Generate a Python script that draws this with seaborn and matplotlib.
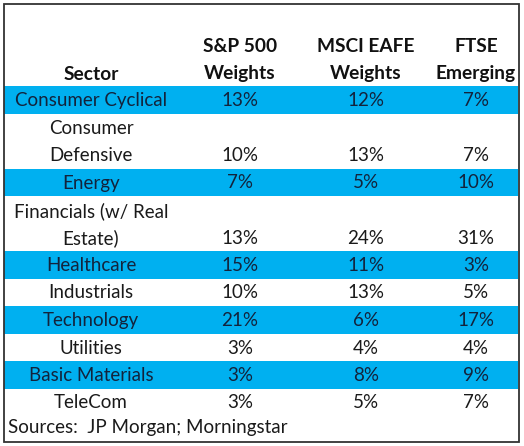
import matplotlib
matplotlib.use("Agg")
import matplotlib.pyplot as plt
import seaborn as sns

# table content
columns = ["Sector", "S&P 500\nWeights", "MSCI EAFE\nWeights", "FTSE\nEmerging"]
sectors = ["Consumer Cyclical", "Consumer\nDefensive", "Energy", "Financials (w/ Real\nEstate)",
           "Healthcare", "Industrials", "Technology", "Utilities", "Basic Materials", "TeleCom"]
sp500 = [13, 10, 7, 13, 15, 10, 21, 3, 3, 3]
eafe = [12, 13, 5, 24, 11, 13, 6, 4, 8, 5]
ftse = [7, 7, 10, 31, 3, 5, 17, 4, 9, 7]
source = "Sources:  JP Morgan; Morningstar"

sns.set_style("white")
plt.rcParams['font.family'] = ['Lato', 'DejaVu Sans']

W, H = 524, 446
fig = plt.figure(figsize=(W / 100, H / 100), dpi=100)
ax = fig.add_axes([0, 0, 1, 1])
ax.set_xlim(0, W)
ax.set_ylim(H, 0)
ax.axis("off")

col_x = [91, 240, 366, 476]
line_h = 27.5
fs = 13.5
blue = "#00B0F0"
dark = "#13233c"

# header
head_bottom = 86
for x, name in zip(col_x, columns):
    lines = name.split("\n")
    for i, ln in enumerate(reversed(lines)):
        ax.text(x, head_bottom - 12 - i * 27, ln, ha="center", va="center",
                fontsize=fs + 0.3, fontweight="bold", color="#111111")

# body rows
y = head_bottom
for r, (sec, a, b, c) in enumerate(zip(sectors, sp500, eafe, ftse)):
    n = sec.count("\n") + 1
    top, bottom = y, y + n * line_h
    shaded = r % 2 == 0
    if shaded:
        ax.axhspan(top, bottom, xmin=4 / W, xmax=518 / W, color=blue, lw=0)
    tc = dark if shaded else "#1a1a1a"
    for i, ln in enumerate(reversed(sec.split("\n"))):
        ax.text(col_x[0], bottom - 13 - i * 27, ln, ha="center", va="center",
                fontsize=fs, color=tc)
    for x, v in zip(col_x[1:], (a, b, c)):
        ax.text(x, bottom - 13, f"{v}%", ha="center", va="center", fontsize=fs, color=tc)
    y = bottom

ax.text(8, 428, source, ha="left", va="center", fontsize=fs, color="#1a1a1a")

# outer border
ax.add_patch(plt.Rectangle((3.5, 3.5), 515, 438, fill=False, ec="#333333", lw=1.3))

fig.savefig("out.png", dpi=100)
